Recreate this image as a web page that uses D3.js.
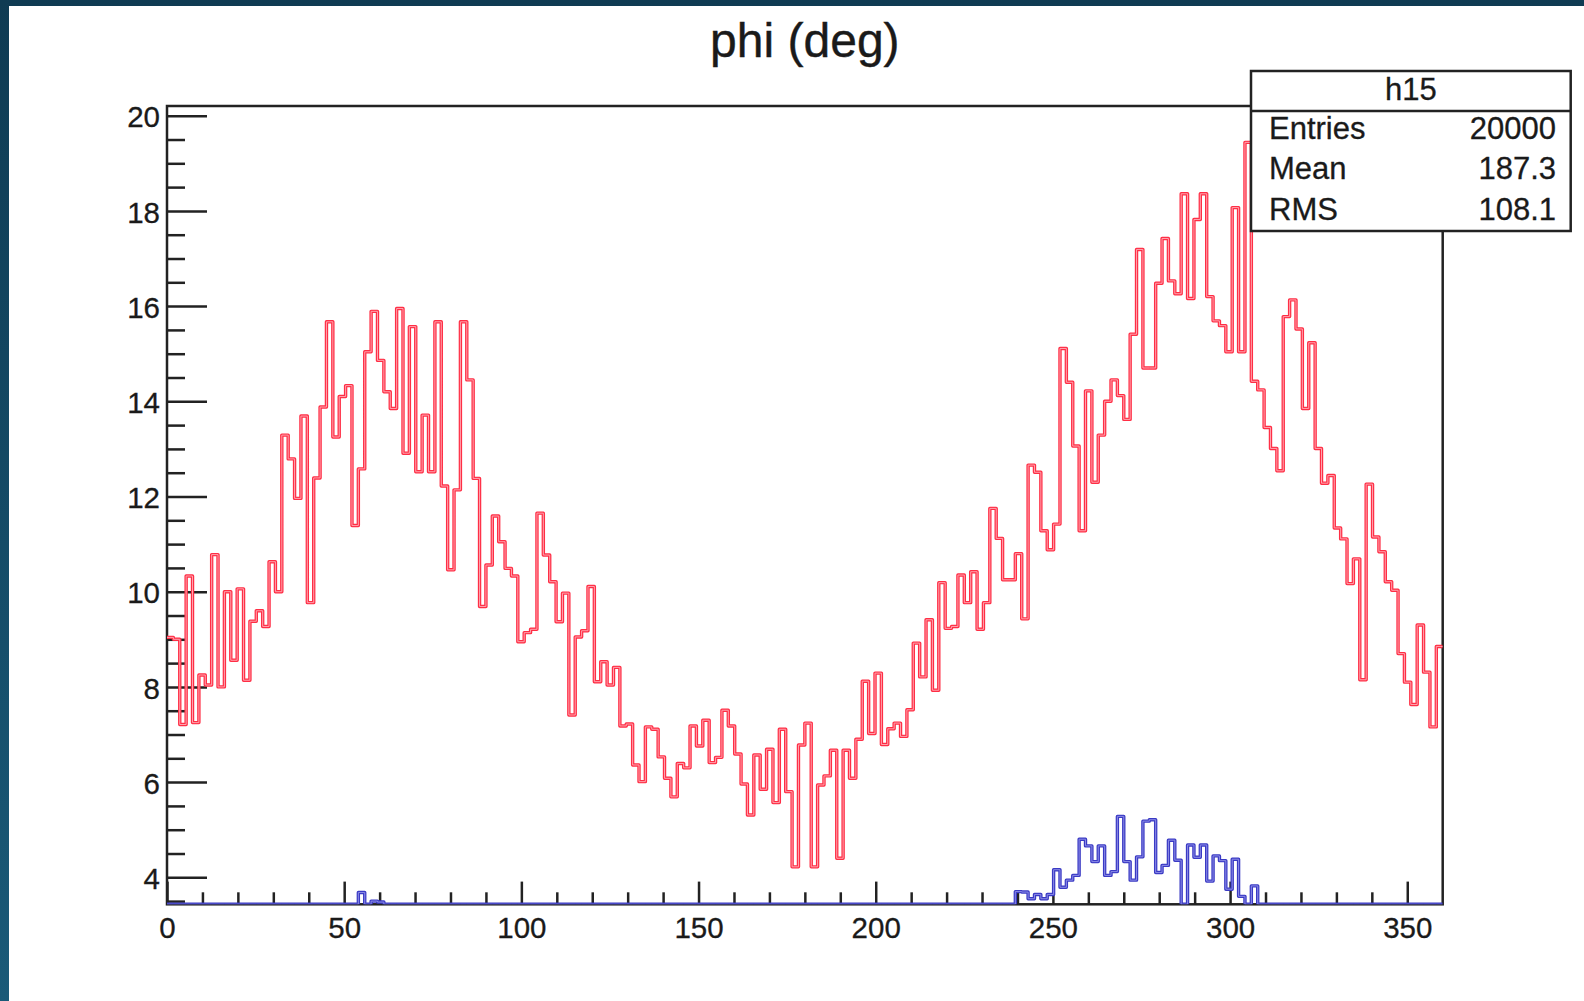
<!DOCTYPE html>
<html>
<head>
<meta charset="utf-8">
<script src="https://cdn.jsdelivr.net/npm/d3@7"></script>
<style>
  html, body { margin: 0; padding: 0; background: #ffffff; }
  svg { display: block; }
  text { font-family: "Liberation Sans", Arial, Helvetica, sans-serif; fill: #1a1a1a; }
</style>
</head>
<body>
<svg id="chart" width="1584" height="1001"></svg>
<script>
// Histogram "phi (deg)": 200 bins over 0..360 degrees
const xLimits = [0, 360];
const nBins = 200;

// bin contents, red histogram (h15)
const redCounts = [
  9.04, 9.0, 7.21, 10.33, 7.25, 8.25, 8.04, 10.78, 8.0, 10.0, 8.56, 10.06, 8.14, 9.38, 9.6, 9.27, 10.63, 10.0, 13.29, 12.79,
  11.96, 13.69, 9.77, 12.39, 13.88, 15.67, 13.25, 14.1, 14.33, 11.39, 12.58, 15.04, 15.89, 14.86, 14.2, 13.85, 15.95, 12.91, 15.57, 12.52,
  13.71, 12.52, 15.67, 12.22, 10.46, 12.14, 15.67, 14.45, 12.38, 9.69, 10.56, 11.59, 11.05, 10.49, 10.33, 8.95, 9.14, 9.21, 11.65, 10.77,
  10.21, 9.37, 9.97, 7.41, 9.05, 9.18, 10.11, 8.11, 8.53, 8.04, 8.41, 7.18, 7.22, 6.36, 6.01, 7.16, 7.11, 6.53, 6.08, 5.69,
  6.39, 6.3, 7.18, 6.76, 7.3, 6.41, 6.52, 7.51, 7.18, 6.59, 5.96, 5.31, 6.57, 5.85, 6.69, 5.57, 7.11, 5.8, 4.22, 6.78,
  7.24, 4.22, 5.94, 6.13, 6.67, 4.4, 6.67, 6.08, 6.9, 8.12, 7.02, 8.29, 6.79, 7.12, 7.24, 6.96, 7.52, 8.92, 8.21, 9.41,
  7.93, 10.19, 9.23, 9.27, 10.35, 9.77, 10.42, 9.21, 9.77, 11.75, 11.12, 10.25, 10.25, 10.8, 9.43, 12.66, 12.51, 11.28, 10.88, 11.42,
  15.11, 14.4, 13.06, 11.28, 14.22, 12.3, 13.29, 14.0, 14.45, 14.12, 13.62, 15.41, 17.19, 14.7, 14.7, 16.48, 17.42, 16.53, 16.26, 18.36,
  16.16, 17.82, 18.36, 16.2, 15.69, 15.59, 15.04, 18.07, 15.04, 19.44, 14.42, 14.24, 13.45, 13.01, 12.54, 15.78, 16.13, 15.52, 13.85, 15.23,
  13.01, 12.28, 12.44, 11.34, 11.11, 10.17, 10.69, 8.15, 12.26, 11.15, 10.84, 10.21, 10.03, 8.7, 8.1, 7.63, 9.3, 8.31, 7.16, 8.85
];

// bin contents, blue histogram (mostly below the visible range)
const blueCounts = [
  0, 0, 0, 0, 0, 0, 0, 0, 0, 0, 0, 0, 0, 0, 0, 0, 0, 0, 0, 0,
  0, 0, 0, 0, 0, 0, 0, 0, 0, 0, 3.68, 0, 3.5, 3.48, 0, 0, 0, 0, 0, 0,
  0, 0, 0, 0, 0, 0, 0, 0, 0, 0, 0, 0, 0, 0, 0, 0, 0, 0, 0, 0,
  0, 0, 0, 0, 0, 0, 0, 0, 0, 0, 0, 0, 0, 0, 0, 0, 0, 0, 0, 0,
  0, 0, 0, 0, 0, 0, 0, 0, 0, 0, 0, 0, 0, 0, 0, 0, 0, 0, 0, 0,
  0, 0, 0, 0, 0, 0, 0, 0, 0, 0, 0, 0, 0, 0, 0, 0, 0, 0, 0, 0,
  0, 0, 0, 0, 0, 0, 0, 0, 0, 0, 0, 0, 0, 3.7, 3.69, 3.55, 3.64, 3.55, 3.64, 4.16,
  3.79, 3.94, 4.04, 4.8, 4.66, 4.33, 4.66, 4.04, 4.12, 5.28, 4.33, 3.94, 4.43, 5.18, 5.21, 4.1, 4.25, 4.78, 4.36, 0,
  4.68, 4.42, 4.68, 3.92, 4.45, 4.35, 3.75, 4.38, 3.6, 0, 3.82, 0, 0, 0, 0, 0, 0, 0, 0, 0,
  0, 0, 0, 0, 0, 0, 0, 0, 0, 0, 0, 0, 0, 0, 0, 0, 0, 0, 0, 0
];

// axis ticks
const xMajorTicks = [0, 50, 100, 150, 200, 250, 300, 350];
const xMinorTicks = [10, 20, 30, 40, 60, 70, 80, 90, 110, 120, 130, 140, 160, 170, 180, 190,
                     210, 220, 230, 240, 260, 270, 280, 290, 310, 320, 330, 340];
const yLimits = [3.433, 20.204];
const yMajorTicks = [4, 6, 8, 10, 12, 14, 16, 18, 20];
const yMinorTicks = [3.5, 4.5, 5, 5.5, 6.5, 7, 7.5, 8.5, 9, 9.5, 10.5, 11, 11.5, 12.5, 13, 13.5,
                     14.5, 15, 15.5, 16.5, 17, 17.5, 18.5, 19, 19.5];

// statistics box
const statsTitle = "h15";
const statsLabels = ["Entries", "Mean", "RMS"];
const statsValues = ["20000", "187.3", "108.1"];
const titleText = "phi (deg)";

const W = 1584, H = 1001;
const frame = { left: 167, right: 1442.7, top: 106, bottom: 904.3 };
const ink = "#222222";

const svg = d3.select("#chart");

// backdrop: dark border strip and white canvas
const defs = svg.append("defs");
const grad = defs.append("linearGradient").attr("id", "edge").attr("x1", 0).attr("y1", 0).attr("x2", 0).attr("y2", 1);
grad.append("stop").attr("offset", "0%").attr("stop-color", "#0f3b53");
grad.append("stop").attr("offset", "100%").attr("stop-color", "#1a5a78");
svg.append("rect").attr("width", W).attr("height", H).attr("fill", "url(#edge)");
svg.append("rect").attr("x", 9).attr("y", 6).attr("width", W - 9).attr("height", H - 6).attr("fill", "#ffffff");

defs.append("clipPath").attr("id", "plotClip")
  .append("rect")
  .attr("x", frame.left).attr("y", frame.top)
  .attr("width", frame.right - frame.left).attr("height", frame.bottom - frame.top);

const x = d3.scaleLinear().domain(xLimits).range([frame.left, frame.right]);
const y = d3.scaleLinear().domain(yLimits).range([frame.bottom, frame.top]).clamp(true);

const binWidth = (xLimits[1] - xLimits[0]) / nBins;
function stepPoints(counts) {
  const pts = counts.map((v, i) => [xLimits[0] + i * binWidth, v]);
  pts.push([xLimits[1], counts[counts.length - 1]]);
  return pts;
}
const stepLine = d3.line()
  .x(d => x(d[0]))
  .y(d => y(d[1]))
  .curve(d3.curveStepAfter);

// axes (ticks point into the frame)
const xAxisMajor = d3.axisBottom(x).tickValues(xMajorTicks).tickSize(-22.7).tickPadding(12.4).tickFormat(d3.format("d"));
const xAxisMinor = d3.axisBottom(x).tickValues(xMinorTicks).tickSize(-12).tickFormat("");
const yAxisMajor = d3.axisLeft(y).tickValues(yMajorTicks).tickSize(-40).tickPadding(7).tickFormat(d3.format("d"));
const yAxisMinor = d3.axisLeft(y).tickValues(yMinorTicks).tickSize(-18).tickFormat("");

function styleAxis(g) {
  g.select(".domain").remove();
  g.selectAll(".tick line").attr("stroke", ink).attr("stroke-width", 2.5);
  g.selectAll(".tick text").attr("font-size", 29.5).attr("fill", "#1a1a1a")
    .attr("stroke", "#1a1a1a").attr("stroke-width", 0.3)
    .style("font-family", "'Liberation Sans', Arial, sans-serif");
}

svg.append("g").attr("transform", `translate(0,${frame.bottom})`).call(xAxisMinor).call(styleAxis);
svg.append("g").attr("transform", `translate(0,${frame.bottom})`).call(xAxisMajor).call(styleAxis);
svg.append("g").attr("transform", `translate(${frame.left},0)`).call(yAxisMinor).call(styleAxis);
const yg = svg.append("g").attr("transform", `translate(${frame.left},0)`).call(yAxisMajor).call(styleAxis);
yg.selectAll(".tick text").attr("dy", "0.38em");

// frame
svg.append("rect")
  .attr("x", frame.left).attr("y", frame.top)
  .attr("width", frame.right - frame.left).attr("height", frame.bottom - frame.top)
  .attr("fill", "none").attr("stroke", ink).attr("stroke-width", 2.5);

// histograms: outlined stroke with a light core
const plot = svg.append("g").attr("clip-path", "url(#plotClip)");
function drawHist(counts, outer, inner) {
  const d = stepLine(stepPoints(counts));
  plot.append("path").attr("d", d).attr("fill", "none")
    .attr("stroke", outer).attr("stroke-width", 3.4).attr("stroke-linejoin", "round");
  plot.append("path").attr("d", d).attr("fill", "none")
    .attr("stroke", inner).attr("stroke-width", 1.0).attr("stroke-linejoin", "round");
}
drawHist(blueCounts, "#3a3ac4", "#8c8ce6");
drawHist(redCounts, "#ff2e45", "#ffa3ae");

// title
svg.append("text")
  .attr("x", (frame.left + frame.right) / 2).attr("y", 57.3)
  .attr("text-anchor", "middle").attr("font-size", 48)
  .attr("stroke", "#1a1a1a").attr("stroke-width", 0.4)
  .text(titleText);

// statistics box
const box = { left: 1251, right: 1570.7, top: 71, bottom: 231, sep: 111 };
const sg = svg.append("g");
sg.append("rect")
  .attr("x", box.left).attr("y", box.top)
  .attr("width", box.right - box.left).attr("height", box.bottom - box.top)
  .attr("fill", "#ffffff").attr("stroke", ink).attr("stroke-width", 2.5);
sg.append("line")
  .attr("x1", box.left).attr("x2", box.right).attr("y1", box.sep).attr("y2", box.sep)
  .attr("stroke", ink).attr("stroke-width", 2.5);
const statFont = 31;
sg.append("text")
  .attr("x", (box.left + box.right) / 2).attr("y", 100)
  .attr("text-anchor", "middle").attr("font-size", statFont)
  .attr("stroke", "#1a1a1a").attr("stroke-width", 0.3).text(statsTitle);
const rowBaselines = [139.3, 179.3, 220];
sg.selectAll("text.lab").data(statsLabels).join("text").attr("class", "lab")
  .attr("x", 1269).attr("y", (d, i) => rowBaselines[i])
  .attr("font-size", statFont).attr("stroke", "#1a1a1a").attr("stroke-width", 0.3).text(d => d);
sg.selectAll("text.val").data(statsValues).join("text").attr("class", "val")
  .attr("x", 1556).attr("y", (d, i) => rowBaselines[i])
  .attr("text-anchor", "end").attr("font-size", statFont)
  .attr("stroke", "#1a1a1a").attr("stroke-width", 0.3).text(d => d);
</script>
</body>
</html>
